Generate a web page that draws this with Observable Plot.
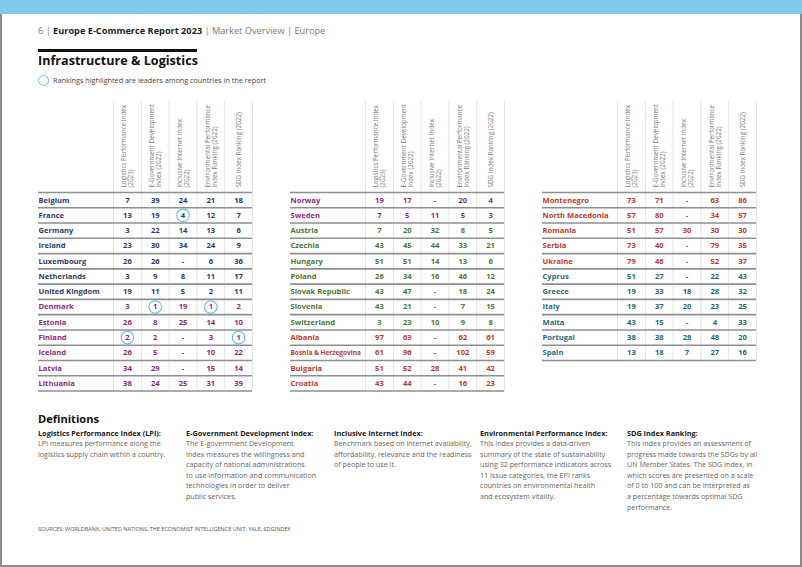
<!DOCTYPE html>
<html><head><meta charset="utf-8">
<script src="https://cdn.jsdelivr.net/npm/d3@7"></script>
<script src="https://cdn.jsdelivr.net/npm/@observablehq/plot@0.6"></script>
<style>
body{margin:0;width:802px;height:567px;position:relative;overflow:hidden;background:#fff;font-family:"Open Sans",sans-serif;}
.frame{position:absolute;left:0;top:0;width:798px;height:563px;border:2px solid #8c8c8c;}
.topbar{position:absolute;left:0;top:0;width:802px;height:14px;background:#7fcbef;}
.abs{position:absolute;white-space:nowrap;line-height:1;}
#head{left:38px;top:26px;font-size:9.2px;color:#7a7a7a;}
#head b{color:#1f1f1f;}
#rule{left:38px;top:49px;width:159px;height:3px;background:#111;}
#title{left:38px;top:55px;font-size:12.6px;font-weight:700;color:#111;}
#legend{left:53px;top:77px;font-size:7.25px;color:#444;}
#legcirc{left:38px;top:75px;width:11px;height:11px;border:1.2px solid #6cc0e5;border-radius:50%;box-sizing:border-box;}
#plot{position:absolute;left:0;top:96px;}
#defs-title{left:38px;top:413px;font-size:11.1px;font-weight:700;color:#111;}
.def{position:absolute;top:428px;white-space:nowrap;}
.def h4{margin:0;font-size:7.3px;font-weight:700;color:#1a1a1a;line-height:10px;}
.def p{margin:0;font-size:7.15px;color:#666;line-height:10.6px;}
#sources{left:38px;top:527px;font-size:5.5px;color:#555;}
</style>
</head><body>
<div class="frame"></div>
<div class="topbar"></div>
<div class="abs" id="head">6 | <b>Europe E-Commerce Report 2023</b> | Market Overview | Europe</div>
<div class="abs" id="rule"></div>
<div class="abs" id="title">Infrastructure &amp; Logistics</div>
<div class="abs" id="legcirc"></div>
<div class="abs" id="legend">Rankings highlighted are leaders among countries in the report</div>
<div id="plot"></div>
<div class="abs" id="defs-title">Definitions</div>
<div id="defs"></div>
<div class="abs" id="sources">SOURCES: WORLDBANK, UNITED NATIONS, THE ECONOMIST INTELLIGENCE UNIT, YALE, SDGINDEX</div>
<script>
// ---------- data ----------
const countries = ["Belgium","France","Germany","Ireland","Luxembourg","Netherlands","United Kingdom","Denmark","Estonia","Finland","Iceland","Latvia","Lithuania",
  "Norway","Sweden","Austria","Czechia","Hungary","Poland","Slovak Republic","Slovenia","Switzerland","Albania","Bosnia & Herzegovina","Bulgaria","Croatia",
  "Montenegro","North Macedonia","Romania","Serbia","Ukraine","Cyprus","Greece","Italy","Malta","Portugal","Spain"];
const panels = [1,1,1,1,1,1,1,1,1,1,1,1,1, 2,2,2,2,2,2,2,2,2,2,2,2,2, 3,3,3,3,3,3,3,3,3,3,3];
const groups = ["west","west","west","west","west","west","west","nordic","nordic","nordic","nordic","nordic","nordic",
  "nordic","nordic","central","central","central","central","central","central","central","east","east","east","east",
  "east","east","east","east","east","south","south","south","south","south","south"];
const lpi  = [7,13,3,23,26,3,19,3,26,2,26,34,38, 19,7,7,43,51,26,43,43,3,97,61,51,43, 73,57,51,73,79,51,19,19,43,38,13];
const egdi = [39,19,22,30,26,9,11,1,8,2,5,29,24, 17,5,20,45,51,34,47,21,23,63,96,52,44, 71,80,57,40,46,27,33,37,15,38,18];
const iii  = [24,4,14,34,null,8,5,19,25,null,null,null,25, null,11,32,44,14,16,null,null,10,null,null,28,null, null,null,30,null,null,null,18,20,null,28,7];
const epi  = [21,12,13,24,6,11,2,1,14,3,10,15,31, 20,5,8,33,13,46,18,7,9,62,102,41,16, 63,34,30,79,52,22,28,23,4,48,27];
const sdg  = [18,7,6,9,36,17,11,2,10,1,22,14,39, 4,3,5,21,6,12,24,15,8,61,59,42,23, 86,57,30,35,37,43,32,25,33,20,16];
const columnKeys = ["LPI","EGDI","III","EPI","SDG"];
const columnLabels = ["Logistics Performance Index\n(2023)","E-Government Development\nIndex (2022)","Inclusive Internet Index\n(2022)","Environmental Performance\nIndex Ranking (2022)","SDG Index Ranking (2022)"];
const highlights = [["France","III"],["Denmark","EGDI"],["Denmark","EPI"],["Finland","LPI"],["Finland","SDG"]];
const groupNames = ["west","nordic","central","east","south"];
const groupColors = ["#2d3b6c","#8c2b7d","#4b7a2e","#bf3a2b","#1f6b74"];

const defTitles = ["Logistics Performance Index (LPI):","E-Government Development Index:","Inclusive Internet Index:","Environmental Performance Index:","SDG Index Ranking:"];
const defTexts = [
  ["LPI measures performance along the","logistics supply chain within a country."],
  ["The E-government Development","Index measures the willingness and","capacity of national administrations","to use information and communication","technologies in order to deliver","public services."],
  ["Benchmark based on internet availability,","affordability, relevance and the readiness","of people to use it."],
  ["This index provides a data-driven","summary of the state of sustainability","using 32 performance indicators across","11 issue categories, the EPI ranks","countries on environmental health","and ecosystem vitality."],
  ["This index provides an assessment of","progress made towards the SDGs by all","UN Member States. The SDG Index, in","which scores are presented on a scale","of 0 to 100 and can be interpreted as","a percentage towards optimal SDG","performance."]
];

// ---------- build tables ----------
const seriesByKey = {LPI: lpi, EGDI: egdi, III: iii, EPI: epi, SDG: sdg};
const counters = {};
const rows = countries.map((c, i) => {
  const p = panels[i];
  counters[p] = (counters[p] === undefined ? 0 : counters[p] + 1);
  return {country: c, panel: p, group: groups[i], row: counters[p], idx: i};
});
const panelIds = [1,2,3];
const panelRows = panelIds.map(p => rows.filter(r => r.panel === p).length);
const cells = [];
rows.forEach(r => columnKeys.forEach((k, j) => {
  const v = seriesByKey[k][r.idx];
  const hl = highlights.some(h => h[0] === r.country && h[1] === k);
  cells.push({panel: r.panel, row: r.row, col: j + 1, key: k, label: v == null ? "-" : String(v), group: r.group, hl});
}));
const headerCells = panelIds.flatMap(p => columnLabels.map((l, j) => ({panel: p, col: j + 1, label: l})));
const hLines = panelIds.flatMap((p, k) => d3.range(panelRows[k] + 1).map(b => ({panel: p, b})));
const vLines = panelIds.flatMap((p, k) => d3.range(6).map(j => ({panel: p, x: j + 0.5, n: panelRows[k]})));

const X0 = -2.2;   // left edge of the name column (in column units)
const XR = 5.5;    // right edge of the table
const YT = -5.96;  // top of the header separators (in row units)

const chart = Plot.plot({
  width: 802, height: 300,
  marginLeft: 38, marginRight: 46, marginTop: 0, marginBottom: 0,
  style: {fontFamily: "'Open Sans', sans-serif", background: "transparent", overflow: "visible"},
  fx: {domain: panelIds, paddingInner: 0.1508, paddingOuter: 0, round: false, axis: null, label: null},
  x: {domain: [X0, XR], axis: null},
  y: {domain: [-96 / 15.27, (300 - 96) / 15.27], range: [0, 300], axis: null},
  color: {domain: groupNames, range: groupColors},
  marks: [
    Plot.ruleX(vLines, {fx: "panel", x: "x", y1: YT, y2: "n", stroke: "#dcdcdc", strokeWidth: 0.8}),
    Plot.ruleY(hLines, {fx: "panel", y: "b", x1: X0, x2: XR, stroke: "#8f8f8f", strokeWidth: 1.6}),
    Plot.text(headerCells, {fx: "panel", x: "col", y: 0, text: "label", rotate: -90, textAnchor: "start", lineAnchor: "middle", dy: -5, fontSize: 6.3, fill: "#808080", lineHeight: 1.15}),
    Plot.dot(cells.filter(d => d.hl), {fx: "panel", x: "col", y: d => d.row + 0.5, r: 6.3, stroke: "#62bde4", strokeWidth: 1.1, fill: "white"}),
    Plot.text(rows, {fx: "panel", x: X0, y: d => d.row + 0.5, text: "country", textAnchor: "start", fill: "group", fontWeight: 700, fontSize: d => d.country.length > 17 ? 6.5 : 7.6}),
    Plot.text(cells, {fx: "panel", x: "col", y: d => d.row + 0.5, text: "label", fill: "group", fontWeight: 700, fontSize: 7.6})
  ]
});
document.getElementById("plot").appendChild(chart);

// definitions
const defX = [38, 186, 334, 480, 627];
const defs = document.getElementById("defs");
defTitles.forEach((t, i) => {
  const d = document.createElement("div");
  d.className = "def";
  d.style.left = defX[i] + "px";
  d.innerHTML = "<h4></h4><p></p>";
  d.querySelector("h4").textContent = t;
  d.querySelector("p").innerHTML = defTexts[i].map(s => s.replace(/&/g, "&amp;")).join("<br>");
  defs.appendChild(d);
});
</script>
</body></html>
